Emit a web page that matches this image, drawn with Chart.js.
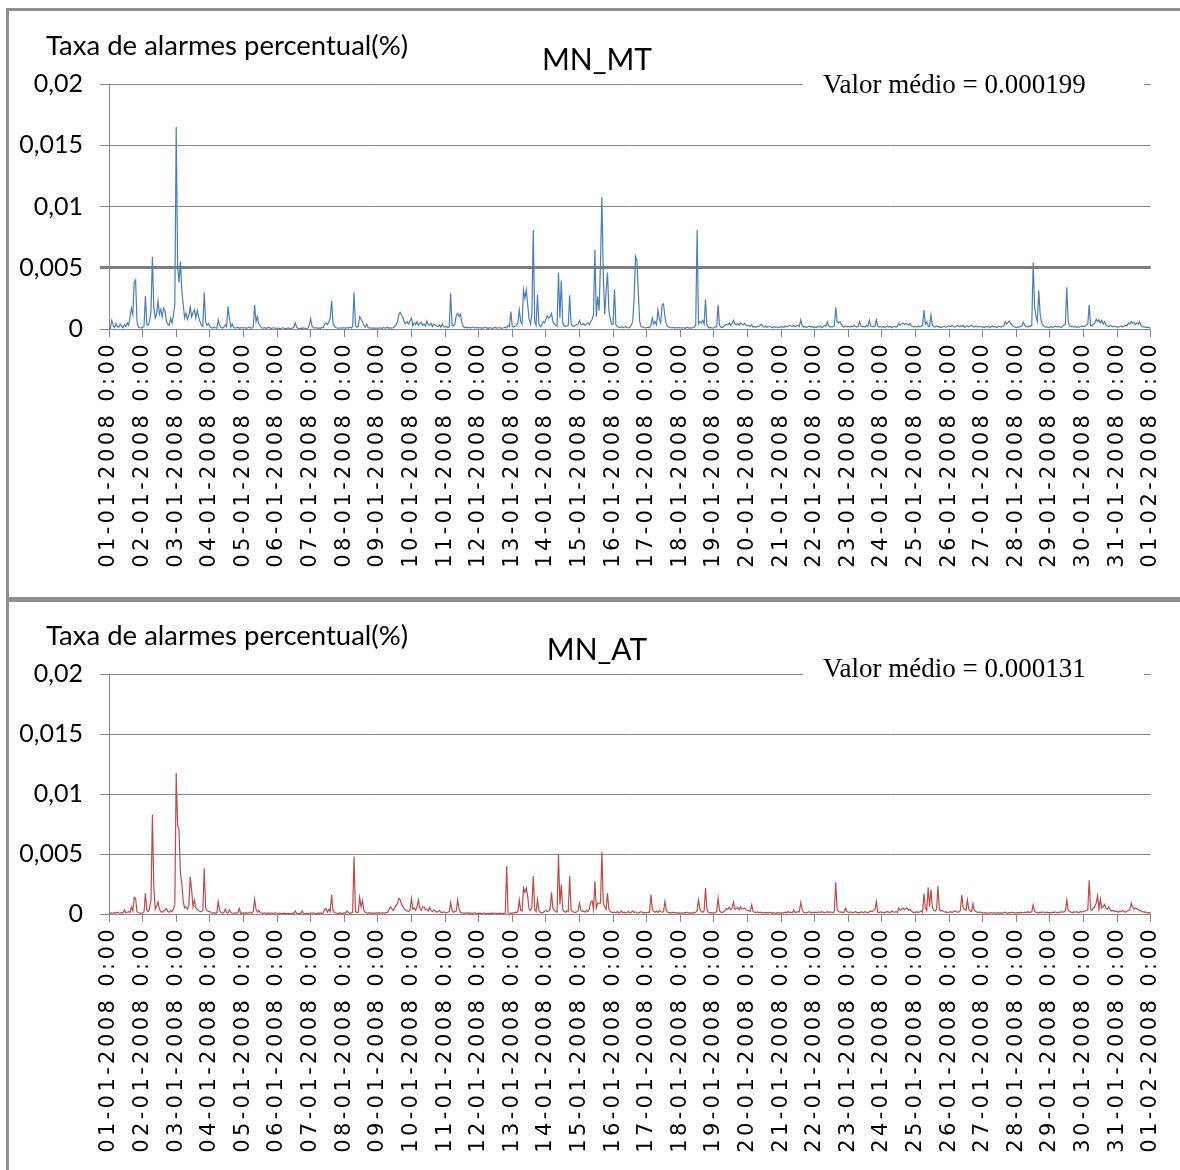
<!DOCTYPE html>
<html>
<head>
<meta charset="utf-8">
<title>Taxa de alarmes percentual - MN_MT / MN_AT</title>
<script src="https://cdn.jsdelivr.net/npm/chart.js@4.4.1/dist/chart.umd.min.js"></script>
<style>
  html, body { margin: 0; padding: 0; background: #fff; }
  body { width: 1180px; height: 1170px; overflow: hidden; position: relative; }
  .panel { position: absolute; left: 6px; width: 1200px; box-sizing: border-box; border: 3px solid #8f8f8f; background: #fff; }
  #panelMt { top: 8px; height: 592px; }
  #panelAt { top: 599px; height: 600px; }
  canvas { display: block; }
</style>
</head>
<body>
<div class="panel" id="panelMt"><canvas id="chartMt" width="1171" height="586"></canvas></div>
<div class="panel" id="panelAt"><canvas id="chartAt" width="1171" height="568"></canvas></div>

<script>
// Hourly alarm rate, 01-01-2008 0:00 to 01-02-2008 0:00 (745 samples)
// values are stored in units of 0.00001 %
const valueUnit = 0.00001;

const dayLabels = [
    '01-01-2008 0:00', '02-01-2008 0:00', '03-01-2008 0:00', '04-01-2008 0:00',
    '05-01-2008 0:00', '06-01-2008 0:00', '07-01-2008 0:00', '08-01-2008 0:00',
    '09-01-2008 0:00', '10-01-2008 0:00', '11-01-2008 0:00', '12-01-2008 0:00',
    '13-01-2008 0:00', '14-01-2008 0:00', '15-01-2008 0:00', '16-01-2008 0:00',
    '17-01-2008 0:00', '18-01-2008 0:00', '19-01-2008 0:00', '20-01-2008 0:00',
    '21-01-2008 0:00', '22-01-2008 0:00', '23-01-2008 0:00', '24-01-2008 0:00',
    '25-01-2008 0:00', '26-01-2008 0:00', '27-01-2008 0:00', '28-01-2008 0:00',
    '29-01-2008 0:00', '30-01-2008 0:00', '31-01-2008 0:00', '01-02-2008 0:00'
];

const yTicks = [0, 0.005, 0.01, 0.015, 0.02];

const mtMean = 0.000199;
const atMean = 0.000131;

// MN_MT, one row per day
const mnMtValues = [
    10,5,70,30,12,45,20,15,40,25,10,35,20,50,30,90,170,120,380,400,60,15,10,8,
    15,20,270,40,30,60,150,590,180,90,120,230,120,160,100,170,150,60,40,30,90,50,110,200,
    1650,520,380,550,320,200,90,130,80,110,180,100,130,155,90,150,100,60,30,20,300,60,30,45,
    20,12,8,15,10,6,75,30,12,8,15,35,20,185,90,15,40,12,8,10,14,6,9,12,
    8,12,6,10,15,9,7,20,195,60,100,40,25,10,8,12,6,9,14,7,5,10,8,6,
    5,8,4,6,10,7,3,5,9,6,4,8,12,50,15,6,4,7,5,9,6,4,8,30,
    85,20,10,8,12,6,9,5,14,10,40,50,35,60,90,230,45,20,12,8,6,10,7,9,
    10,6,12,8,15,9,20,300,30,15,20,100,80,60,30,15,40,12,8,10,6,9,5,8,
    6,10,8,5,12,7,9,15,6,10,8,12,20,35,60,120,136,110,90,50,45,60,40,70,
    90,25,50,35,60,30,45,55,30,40,25,65,35,30,45,20,40,30,25,20,35,15,40,20,
    15,20,12,18,292,30,25,40,110,128,100,120,50,20,12,15,10,14,8,12,16,10,9,13,
    8,12,6,10,9,14,7,5,11,8,6,10,13,7,9,12,6,8,10,15,9,30,20,142,
    20,15,25,30,50,155,60,40,320,250,320,200,80,40,120,811,60,30,278,40,20,30,60,50,
    80,110,90,100,128,60,40,30,25,461,90,396,50,30,20,25,30,276,40,25,20,30,35,40,
    70,40,35,45,30,40,50,35,60,80,120,647,100,265,150,538,1078,429,120,306,461,150,80,40,
    40,325,30,20,15,12,18,10,14,20,12,9,15,30,60,250,592,560,300,60,20,15,12,10,
    12,15,10,30,90,40,60,35,155,80,50,197,205,100,40,20,15,12,10,14,8,12,9,11,
    10,8,12,6,9,14,7,10,8,12,15,30,811,40,60,50,70,40,243,30,15,10,12,8,
    10,15,20,197,30,15,12,20,30,40,35,50,30,45,70,40,35,45,30,50,40,35,45,30,
    25,30,20,35,15,20,12,25,18,30,40,20,15,25,12,18,22,15,10,20,14,18,12,16,
    15,20,12,25,18,22,30,25,20,28,18,25,30,20,74,30,15,20,12,18,25,15,20,12,
    18,12,20,15,25,10,18,30,22,60,25,15,20,18,25,177,60,50,60,40,20,15,25,18,
    20,15,25,18,30,22,15,20,60,25,18,22,15,30,20,70,25,18,22,20,75,25,15,20,
    15,20,12,18,25,15,20,10,18,22,15,20,45,30,40,50,35,45,40,30,45,25,20,15,
    20,15,25,18,22,30,155,40,60,25,20,115,30,20,15,25,18,20,12,15,22,18,15,20,
    25,18,30,20,15,22,28,18,25,20,30,15,20,25,18,22,30,20,15,25,20,18,22,15,
    18,12,20,15,22,10,18,25,15,20,12,18,22,15,20,25,60,40,55,65,45,30,20,15,
    12,18,15,20,25,55,30,20,15,25,20,30,543,183,100,60,314,120,50,30,20,15,18,12,
    15,20,12,18,25,15,20,18,12,22,30,40,341,60,25,18,22,15,20,12,18,15,20,25,
    20,25,30,40,197,30,25,40,50,80,60,75,50,70,40,60,30,25,20,30,25,18,22,20,
    18,15,20,25,18,22,30,25,50,40,60,45,55,35,50,40,60,30,20,15,18,12,15,10,
    10
];

// MN_AT, one row per day
const mnAtValues = [
    8,5,10,6,12,8,15,10,7,12,9,35,10,15,20,12,60,25,139,130,20,10,8,6,
    10,15,172,30,20,50,117,826,233,40,70,100,40,20,15,25,30,45,20,15,30,20,40,80,
    1175,740,700,345,250,100,50,60,40,70,311,200,60,117,50,40,30,20,20,30,381,50,30,20,
    20,10,8,12,6,9,103,30,12,8,10,40,15,9,35,12,8,6,10,7,9,45,6,8,
    10,8,12,6,9,15,7,20,122,40,15,30,12,8,6,10,7,5,9,6,8,5,7,10,
    6,4,8,5,3,7,5,4,6,3,5,8,4,25,6,4,5,3,25,6,4,5,3,6,
    8,5,10,6,4,7,5,9,6,8,40,45,15,40,20,158,30,12,8,6,5,9,7,6,
    10,8,25,12,6,9,15,478,20,12,15,139,60,110,30,15,10,8,12,6,9,5,8,10,
    8,12,6,10,9,7,12,15,40,60,45,30,50,70,90,130,118,80,60,40,30,25,20,35,
    128,40,50,30,60,118,45,30,60,60,35,40,25,55,30,20,35,25,15,20,30,15,12,18,
    12,10,15,20,95,30,15,20,25,118,40,15,10,8,6,10,7,9,5,8,6,10,7,5,
    5,7,4,6,8,5,3,6,4,7,5,8,6,4,5,7,3,6,5,8,400,10,6,5,
    10,8,15,12,20,118,30,25,217,180,217,150,40,30,60,316,40,20,118,30,15,10,12,20,
    30,20,25,40,180,50,30,20,15,500,80,245,40,20,15,25,20,316,30,20,15,12,18,25,
    90,30,20,25,15,30,20,40,100,110,40,273,50,90,90,90,519,90,60,40,175,40,20,15,
    12,15,10,20,8,12,25,10,15,8,12,20,10,15,25,12,18,10,8,15,20,12,10,14,
    10,15,12,160,40,20,15,25,12,30,20,15,18,104,30,15,10,12,8,15,10,12,8,10,
    8,10,6,12,9,15,7,10,8,12,10,15,30,118,40,20,15,25,217,40,15,10,12,8,
    10,12,20,132,30,15,12,20,30,45,40,55,35,50,100,40,45,55,35,60,40,45,50,35,
    30,25,20,75,20,15,12,18,10,15,12,8,14,10,12,9,15,8,12,10,6,9,12,8,
    10,8,12,15,10,20,12,15,10,35,12,15,20,18,96,40,15,12,10,15,20,12,10,15,
    12,15,10,18,12,20,15,10,14,20,12,18,15,10,20,265,40,20,15,18,12,15,48,20,
    15,12,18,10,15,20,12,14,10,18,15,12,20,15,10,18,25,20,30,40,104,15,12,18,
    12,15,10,18,20,15,12,25,18,15,20,12,48,30,40,50,35,45,48,30,40,25,15,12,
    15,20,12,18,25,15,170,50,30,223,60,203,50,30,25,40,231,40,25,30,20,15,18,12,
    15,20,12,18,25,20,15,18,30,160,50,40,30,118,40,25,20,85,30,20,15,12,18,10,
    10,8,12,6,10,8,12,7,10,9,6,12,8,10,7,12,15,10,8,12,10,15,12,8,
    10,12,8,15,10,12,15,10,20,12,15,18,75,20,15,12,10,15,12,18,10,12,15,10,
    12,10,15,12,18,10,15,12,20,15,18,25,118,30,20,15,12,18,15,20,12,15,20,18,
    20,25,30,35,282,40,30,50,60,90,152,40,124,50,60,80,45,40,60,35,25,30,20,25,
    20,15,25,18,30,20,15,25,30,35,90,60,40,50,45,35,30,25,20,15,18,12,10,12,
    10
];

const gridGrey = '#878787';

// widen the rotated date labels a little
const spacedDateLabels = {
    id: 'spacedDateLabels',
    beforeDraw(chart) {
        const scale = chart.scales.x;
        if (scale._spaced) return;
        const drawLabels = scale.drawLabels;
        scale.drawLabels = function (area) {
            this.ctx.save();
            this.ctx.letterSpacing = '3.4px';
            drawLabels.call(this, area);
            this.ctx.restore();
        };
        scale._spaced = true;
    }
};

// axis caption, series name and the mean value box
const panelText = {
    id: 'panelText',
    afterDraw(chart, args, opts) {
        const ctx = chart.ctx;
        const top = chart.chartArea.top;
        ctx.save();
        ctx.fillStyle = '#000';
        ctx.textBaseline = 'alphabetic';

        ctx.font = '27.5px Lato';
        ctx.textAlign = 'left';
        ctx.fillText('Taxa de alarmes percentual(%)', 37, opts.captionY);

        ctx.font = '30px Lato';
        ctx.textAlign = 'center';
        ctx.fillText(opts.title, 588, opts.titleY);

        // white box over the top grid line
        ctx.fillStyle = '#fff';
        ctx.fillRect(794, top - 16, 341, 32);
        ctx.fillStyle = '#000';
        ctx.font = '27px "Liberation Serif"';
        ctx.textAlign = 'left';
        ctx.fillText('Valor médio = ' + opts.mean.toFixed(6), 814, top + opts.meanOffset);
        ctx.restore();
    }
};

function createPanel(canvasId, values, color, text, heavyLine) {
    const canvas = document.getElementById(canvasId);
    const chartBottom = text.chartBottom;

    return new Chart(canvas, {
        type: 'line',
        data: {
            datasets: [{
                data: values.map((v, i) => ({ x: i, y: v * valueUnit })),
                borderColor: color,
                borderWidth: 1.2,
                pointRadius: 0,
                tension: 0,
                fill: false
            }]
        },
        options: {
            responsive: false,
            maintainAspectRatio: false,
            animation: false,
            layout: {
                padding: { top: text.chartTop, right: 28, left: 0, bottom: 0 }
            },
            plugins: {
                legend: { display: false },
                tooltip: { enabled: false },
                title: { display: false },
                panelText: text
            },
            scales: {
                x: {
                    type: 'linear',
                    min: 0,
                    max: 744,
                    afterFit: (scale) => { scale.height = canvas.height - chartBottom; },
                    grid: {
                        drawOnChartArea: false,
                        drawTicks: true,
                        tickLength: 8,
                        color: gridGrey
                    },
                    border: { display: true, color: gridGrey, width: 1 },
                    ticks: {
                        stepSize: 24,
                        autoSkip: false,
                        minRotation: 90,
                        maxRotation: 90,
                        padding: 4,
                        color: '#000',
                        font: { family: '"DejaVu Sans"', size: 21 },
                        callback: (v) => dayLabels[v / 24]
                    }
                },
                y: {
                    min: yTicks[0],
                    max: yTicks[yTicks.length - 1],
                    afterFit: (scale) => { scale.width = 100; },
                    afterBuildTicks: (scale) => {
                        scale.ticks = yTicks.map((v) => ({ value: v }));
                    },
                    grid: {
                        tickLength: 9,
                        color: (c) => (heavyLine && c.tick && c.tick.value === 0.005) ? '#7e7e7e' : gridGrey,
                        lineWidth: (c) => (heavyLine && c.tick && c.tick.value === 0.005) ? 3 : 1
                    },
                    border: { display: true, color: gridGrey, width: 1 },
                    ticks: {
                        padding: 17,
                        color: '#000',
                        font: { family: 'Lato', size: 25 },
                        callback: (v) => String(v).replace('.', ',')
                    }
                }
            }
        },
        plugins: [spacedDateLabels, panelText]
    });
}

createPanel('chartMt', mnMtValues, '#4a7ebb', {
    title: 'MN_MT', mean: mtMean, captionY: 44, titleY: 59, meanOffset: 9,
    chartTop: 73, chartBottom: 318
}, true);

createPanel('chartAt', mnAtValues, '#be4b48', {
    title: 'MN_AT', mean: atMean, captionY: 43, titleY: 58, meanOffset: 3,
    chartTop: 72, chartBottom: 312
}, false);
</script>
</body>
</html>
